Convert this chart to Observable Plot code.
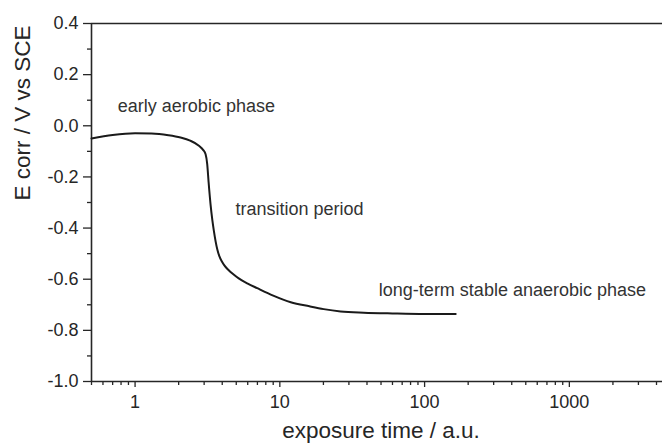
<!DOCTYPE html>
<html><head><meta charset="utf-8">
<script src="https://cdn.jsdelivr.net/npm/d3@7"></script>
<script src="https://cdn.jsdelivr.net/npm/@observablehq/plot@0.6"></script>
<style>body{margin:0;background:#fff} svg{display:block}</style>
</head><body><div id="chart"></div>
<script>
const time = [0.5, 0.7, 1.0, 1.3, 1.7, 2.06, 2.4, 2.76, 2.95, 3.07, 3.15, 3.22, 3.32, 3.42, 3.5, 3.6, 3.7, 3.82, 3.97, 4.15, 4.4, 4.75, 5.2, 6.0, 6.98, 9.0, 11.9, 16, 20.1, 26.3, 38, 60, 100, 164];
const ecorr = [-0.050, -0.036, -0.029, -0.030, -0.037, -0.046, -0.058, -0.078, -0.094, -0.111, -0.150, -0.220, -0.306, -0.370, -0.410, -0.452, -0.484, -0.510, -0.530, -0.547, -0.563, -0.580, -0.597, -0.617, -0.635, -0.664, -0.690, -0.706, -0.717, -0.726, -0.731, -0.734, -0.736, -0.736];

const xMajorTicks = [1, 10, 100, 1000];
const xMinorTicks = [0.5, 0.6, 0.7, 0.8, 0.9, 2, 3, 4, 5, 6, 7, 8, 9, 20, 30, 40, 50, 60, 70, 80, 90, 200, 300, 400, 500, 600, 700, 800, 900, 2000, 3000, 4000];
const yMajorTicks = [0.4, 0.2, 0.0, -0.2, -0.4, -0.6, -0.8, -1.0];
const yMinorTicks = [0.3, 0.1, -0.1, -0.3, -0.5, -0.7, -0.9];

const annotationText = ["early aerobic phase", "transition period", "long-term stable anaerobic phase"];
const annotationX = [0.76, 4.94, 48.3];
const annotationY = [0.078, -0.325, -0.645];

const xTitle = "exposure time / a.u.";
const yTitle = "E corr / V vs SCE";
const xDomain = [0.5, 4400];
const yDomain = [-1.0, 0.4];

const curveData = time.map((t, i) => ({t, v: ecorr[i]}));
const notes = annotationText.map((s, i) => ({s, x: annotationX[i], y: annotationY[i]}));

const ink = "#262626";
const font = "'Liberation Sans', Arial, Helvetica, sans-serif";

const chart = Plot.plot({
  width: 662,
  height: 446,
  marginTop: 23,
  marginBottom: 65,
  marginLeft: 91,
  marginRight: 0,
  style: {fontFamily: font, color: ink, background: "#fff", overflow: "visible"},
  x: {type: "log", domain: xDomain, label: null},
  y: {domain: yDomain, label: null},
  marks: [
    Plot.axisX({ticks: xMajorTicks, tickSize: 6, tickPadding: 8, tickFormat: d => String(d), fontSize: 18, stroke: ink, strokeWidth: 1.3, fill: ink, label: null}),
    Plot.axisX({ticks: xMinorTicks, tickSize: 4, tickFormat: () => "", stroke: ink, strokeWidth: 1.3, label: null}),
    Plot.axisY({ticks: yMajorTicks, tickSize: 8, tickPadding: 5, tickFormat: d => d.toFixed(1), fontSize: 18, stroke: ink, strokeWidth: 1.3, fill: ink, label: null}),
    Plot.axisY({ticks: yMinorTicks, tickSize: 4, tickFormat: () => "", stroke: ink, strokeWidth: 1.3, label: null}),
    Plot.ruleX([xDomain[0]], {stroke: ink, strokeWidth: 1.6}),
    Plot.ruleY([yDomain[0]], {stroke: ink, strokeWidth: 1.6}),
    Plot.ruleY([yDomain[1]], {stroke: ink, strokeWidth: 1.6}),
    Plot.line(curveData, {x: "t", y: "v", curve: "monotone-x", stroke: "#1a1a1a", strokeWidth: 2}),
    Plot.text(notes, {x: "x", y: "y", text: "s", textAnchor: "start", fontSize: 18, fill: "#333"}),
    Plot.text([xTitle], {frameAnchor: "bottom", dy: 56, dx: 4, fontSize: 22.5, fill: ink}),
    Plot.text([yTitle], {frameAnchor: "left", dx: -69, dy: -2, rotate: -90, fontSize: 22.5, fill: ink})
  ]
});
document.getElementById("chart").appendChild(chart);
</script>
</body></html>
